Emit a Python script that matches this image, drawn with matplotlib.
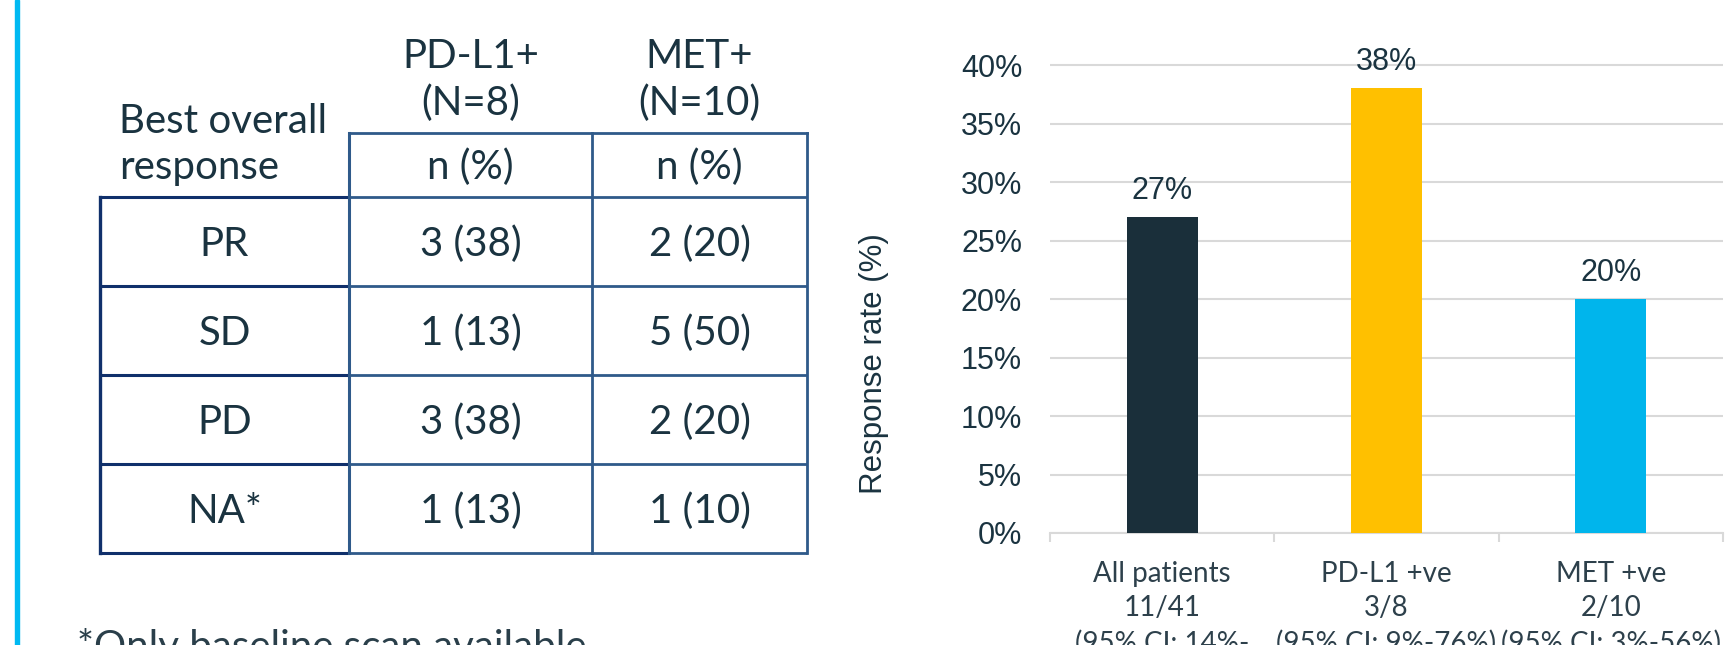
import matplotlib
matplotlib.use("Agg")
import matplotlib.pyplot as plt

# table data
row_labels = ["PR", "SD", "PD", "NA*"]
pdl1_cells = ["3 (38)", "1 (13)", "3 (38)", "1 (13)"]
met_cells = ["2 (20)", "5 (50)", "2 (20)", "1 (10)"]
col_headers = [("PD-L1+", "(N=8)"), ("MET+", "(N=10)")]
sub_header = "n (%)"
footnote = "*Only baseline scan available"

# bar chart data
groups = ["All patients\n11/41\n(95% CI: 14%-\n43%)",
          "PD-L1 +ve\n3/8\n(95% CI: 9%-76%)",
          "MET +ve\n2/10\n(95% CI: 3%-56%)"]
rates = [27, 38, 20]
bar_colors = ["#1a2f3a", "#ffc000", "#00b5ec"]

W, H = 1729, 645
dark = "#1a3340"
navy = "#10306b"
steel = "#2f5a8a"
seg = "Lato"

fig = plt.figure(figsize=(W / 100, H / 100), dpi=100)

# overlay in pixel coords for the table part
ov = fig.add_axes([0, 0, 1, 1])
ov.set_xlim(0, W)
ov.set_ylim(H, 0)
ov.axis("off")

ov.axvspan(15, 19.5, color="#00b9f2")

xs = [100, 349, 592, 807]
row_top = 196.5
row_h = 89.2
head_top = 133
ys = [row_top + i * row_h for i in range(len(row_labels) + 1)]
fs = 29
em = fs * 100 / 72

# grid lines of the table
for y in ys:
    ov.plot([xs[1], xs[3]], [y, y], color=steel, lw=2.0, solid_capstyle="butt")
    ov.plot([xs[0], xs[1]], [y, y], color=navy, lw=2.2, solid_capstyle="butt")
ov.plot([xs[1], xs[3]], [head_top, head_top], color=steel, lw=2.0)
ov.plot([xs[0], xs[0]], [ys[0], ys[-1]], color=navy, lw=2.4)
ov.plot([xs[1], xs[1]], [head_top, ys[-1]], color=steel, lw=2.2)
ov.plot([xs[2], xs[2]], [head_top, ys[-1]], color=steel, lw=2.0)
ov.plot([xs[3], xs[3]], [head_top, ys[-1]], color=steel, lw=2.0)

ov.text(119, 133, "Best overall", fontsize=fs, family=seg, color=dark, va="baseline")
ov.text(119, 179, "response", fontsize=fs, family=seg, color=dark, va="baseline")

for j, (l1, l2) in enumerate(col_headers):
    cx = (xs[j + 1] + xs[j + 2]) / 2
    ov.text(cx, 68, l1, fontsize=fs, family=seg, color=dark, ha="center", va="baseline")
    ov.text(cx, 115, l2, fontsize=fs, family=seg, color=dark, ha="center", va="baseline")
    ov.text(cx, 179, sub_header, fontsize=fs, family=seg, color=dark, ha="center", va="baseline")

for i, lab in enumerate(row_labels):
    by = ys[i] + row_h / 2 + 0.36 * em
    for j, s in enumerate([lab, pdl1_cells[i], met_cells[i]]):
        cx = (xs[j] + xs[j + 1]) / 2
        ov.text(cx, by, s, fontsize=fs, family=seg, color=dark, ha="center", va="baseline")

ov.text(77, 659, footnote, fontsize=fs, family=seg, color="#2a3f4a", va="baseline")

# bar chart
ax = fig.add_axes([1050 / W, (H - 533) / H, 673 / W, 470.3 / H])
x = list(range(len(rates)))
ax.bar(x, rates, width=0.317, color=bar_colors, zorder=3)
ax.set_xlim(-0.5, 2.5)
ax.set_ylim(0, 40.2)
ax.set_yticks(range(0, 41, 5))
ax.set_yticklabels([f"{v}%" for v in range(0, 41, 5)])
ax.yaxis.grid(True, color="#d9d9d9", lw=1.5)
ax.set_axisbelow(True)
for s in ["top", "right", "left"]:
    ax.spines[s].set_visible(False)
ax.spines["bottom"].set_color("#d9d9d9")
ax.spines["bottom"].set_linewidth(1.5)
ax.tick_params(axis="y", length=0, pad=20, labelsize=22, labelcolor=dark)
for t in ax.get_yticklabels():
    t.set_family("Liberation Sans")

ax.set_xticks([-0.5, 0.5, 1.5, 2.5])
ax.set_xticklabels([])
ax.tick_params(axis="x", which="major", length=6.5, width=1.5, color="#d9d9d9")
ax.set_xticks(x, minor=True)
ax.set_xticklabels(groups, minor=True, fontsize=20, family=seg,
                   color="#2d404b", linespacing=1.38)
ax.tick_params(axis="x", which="minor", length=0, pad=20.5)

for xi, v in zip(x, rates):
    ax.annotate(f"{v}%", (xi, v), xytext=(0, 8), textcoords="offset points",
                ha="center", va="bottom", fontsize=22, family="Liberation Sans", color=dark)

ax.set_ylabel("Response rate (%)", fontsize=22.5, family="Liberation Sans", color=dark)
ax.yaxis.set_label_coords(-0.239, 0.36)

fig.savefig("out.png", dpi=100)
